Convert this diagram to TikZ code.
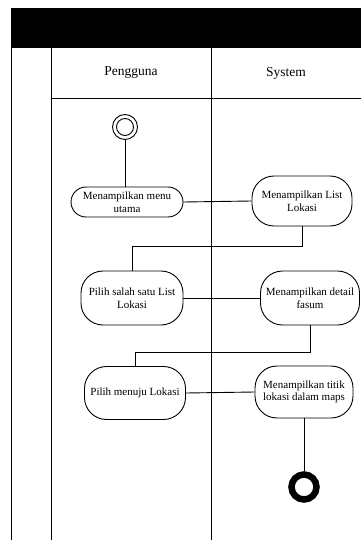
\documentclass[tikz,border=0pt]{standalone}
\usepackage{fontspec}
\setmainfont{Liberation Serif}
\begin{document}
\begin{tikzpicture}[x=1pt,y=-1pt,line width=0.9pt,
  act/.style={draw,rounded corners=22pt,align=center,inner sep=0pt,
    font=\fontsize{11}{12.5}\selectfont},
  lane/.style={font=\fontsize{13.5}{15}\selectfont},
  conn/.style={line width=0.9pt}]
\useasboundingbox (0,0) rectangle (361,540);
% header and swimlanes
\fill (11,8) rectangle (361,48);
\draw (11,48) -- (11,540);
\draw (51,48) -- (51,540);
\draw (211,48) -- (211,540);
\draw (51,98) -- (361,98);
\node[lane] (lp) at (131,73) {Pengguna};
\node[lane] (ls) at (286,73) {System};
% start
\node[draw,circle,minimum size=25pt,inner sep=0pt] (start) at (125,127) {};
\node[draw,circle,minimum size=17pt,inner sep=0pt] (starti) at (125,127) {};
% activities
\node[act,rounded corners=15pt,minimum width=112pt,minimum height=30pt] (n1) at (127,202) {Menampilkan menu\\utama};
\node[act,minimum width=100pt,minimum height=50pt] (n2) at (302,201) {Menampilkan List\\Lokasi};
\node[act,minimum width=102pt,minimum height=54pt] (n3) at (132,298) {Pilih salah satu List\\Lokasi};
\node[act,minimum width=99pt,minimum height=54pt] (n4) at (310,298) {Menampilkan detail\\fasum};
\node[act,minimum width=101pt,minimum height=53pt] (n5) at (135,393) {Pilih menuju Lokasi};
\node[act,minimum width=98pt,minimum height=52pt] (n6) at (304,392) {Menampilkan titik\\lokasi dalam maps};
% end
\node[draw,circle,line width=6.5pt,minimum size=25pt,inner sep=0pt] (end) at (304,487) {};
% connectors
\draw[conn] (start.south) -- (start.south |- n1.north);
\draw[conn] (n1.east) -- (n2.west);
\draw[conn] (n2.south) -- ++(0,20) coordinate (c1) -| (n3.north);
\draw[conn] (n3.east) -- (n4.west);
\draw[conn] (n4.south) -- ++(0,27) coordinate (c2) -| (n5.north);
\draw[conn] (n5.east) -- (n6.west);
\draw[conn] (n6.south) -- (end.north);
\end{tikzpicture}
\end{document}
